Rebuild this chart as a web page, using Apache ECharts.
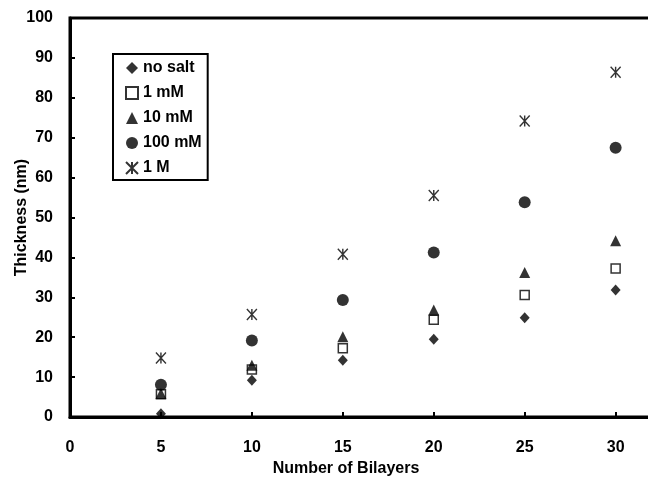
<!DOCTYPE html>
<html>
<head>
<meta charset="utf-8">
<script src="https://cdn.jsdelivr.net/npm/echarts@6/dist/echarts.min.js"></script>
<style>
  html, body { margin: 0; padding: 0; background: #fff; }
  #chart { width: 648px; height: 477px; }
</style>
</head>
<body>
<div id="chart"></div>
<script>
// x values (number of bilayers)
var bilayers = [5, 10, 15, 20, 25, 30];
// thickness in nm, one list per salt concentration
var noSalt = [0.8, 9.2, 14.2, 19.5, 24.9, 31.8];
var mM1 = [5.7, 11.9, 17.2, 24.4, 30.6, 37.2];
var mM10 = [5.9, 13.0, 20.1, 26.8, 36.2, 44.2];
var mM100 = [8.1, 19.2, 29.3, 41.2, 53.8, 67.5];
var M1 = [14.8, 25.7, 40.8, 55.5, 74.2, 86.4];
var seriesNames = ['no salt', '1 mM', '10 mM', '100 mM', '1 M'];

var font = '"Liberation Sans", Arial, sans-serif';
var star = 'path://M0,0L10,10M10,0L0,10M5,0L5,10';

function pairs(ys) {
  return bilayers.map(function (x, i) { return [x, ys[i]]; });
}

var chart = echarts.init(document.getElementById('chart'), null, { renderer: 'canvas' });

var option = {
  backgroundColor: '#fff',
  animation: false,
  grid: {
    left: 70, top: 18, right: -4, bottom: 60,
    outerBoundsMode: 'none', containLabel: false,
    show: true, borderColor: '#000', borderWidth: 3, backgroundColor: 'transparent'
  },
  legend: {
    orient: 'vertical',
    left: 113, top: 54,
    borderColor: '#000', borderWidth: 2,
    padding: [6, 6, 4, 12],
    itemGap: 9, itemWidth: 12, itemHeight: 12,
    textStyle: { fontFamily: font, fontWeight: 'bold', fontSize: 16, color: '#000' },
    data: seriesNames
  },
  xAxis: {
    type: 'value', min: 0, max: 32, interval: 5,
    name: 'Number of Bilayers', nameLocation: 'middle', nameGap: 44, nameMoveOverlap: false,
    nameTextStyle: { fontFamily: font, fontWeight: 'bold', fontSize: 16, color: '#000', padding: [0, 0, 0, -30] },
    axisLine: { lineStyle: { color: '#000', width: 3 } },
    axisTick: { inside: true, length: 5, lineStyle: { color: '#000', width: 2 } },
    axisLabel: {
      margin: 23, showMaxLabel: false,
      fontFamily: font, fontWeight: 'bold', fontSize: 16, color: '#000',
      formatter: function (v) { return v % 5 === 0 ? v : ''; }
    },
    splitLine: { show: false }
  },
  yAxis: {
    type: 'value', min: 0, max: 100, interval: 10,
    name: 'Thickness (nm)', nameLocation: 'middle', nameGap: 40, nameMoveOverlap: false,
    nameTextStyle: { fontFamily: font, fontWeight: 'bold', fontSize: 16, color: '#000' },
    axisLine: { lineStyle: { color: '#000', width: 3 } },
    axisTick: { inside: true, length: 5, lineStyle: { color: '#000', width: 2 } },
    axisLabel: { margin: 17, fontFamily: font, fontWeight: 'bold', fontSize: 16, color: '#000' },
    splitLine: { show: false }
  },
  series: [
    { name: 'no salt', type: 'scatter', data: pairs(noSalt), symbol: 'diamond', symbolSize: [10, 11],
      itemStyle: { color: '#000' } },
    { name: '1 mM', type: 'scatter', data: pairs(mM1), symbol: 'rect', symbolSize: 9,
      itemStyle: { color: '#fff', borderColor: '#000', borderWidth: 1.5 } },
    { name: '10 mM', type: 'scatter', data: pairs(mM10), symbol: 'triangle', symbolSize: [11, 11],
      itemStyle: { color: '#000' } },
    { name: '100 mM', type: 'scatter', data: pairs(mM100), symbol: 'circle', symbolSize: 12,
      itemStyle: { color: '#000' } },
    { name: '1 M', type: 'scatter', data: pairs(M1), symbol: star, symbolSize: [10, 11],
      itemStyle: { color: 'transparent', borderColor: '#000', borderWidth: 1.5 } }
  ]
};

chart.setOption(option);
</script>
</body>
</html>
